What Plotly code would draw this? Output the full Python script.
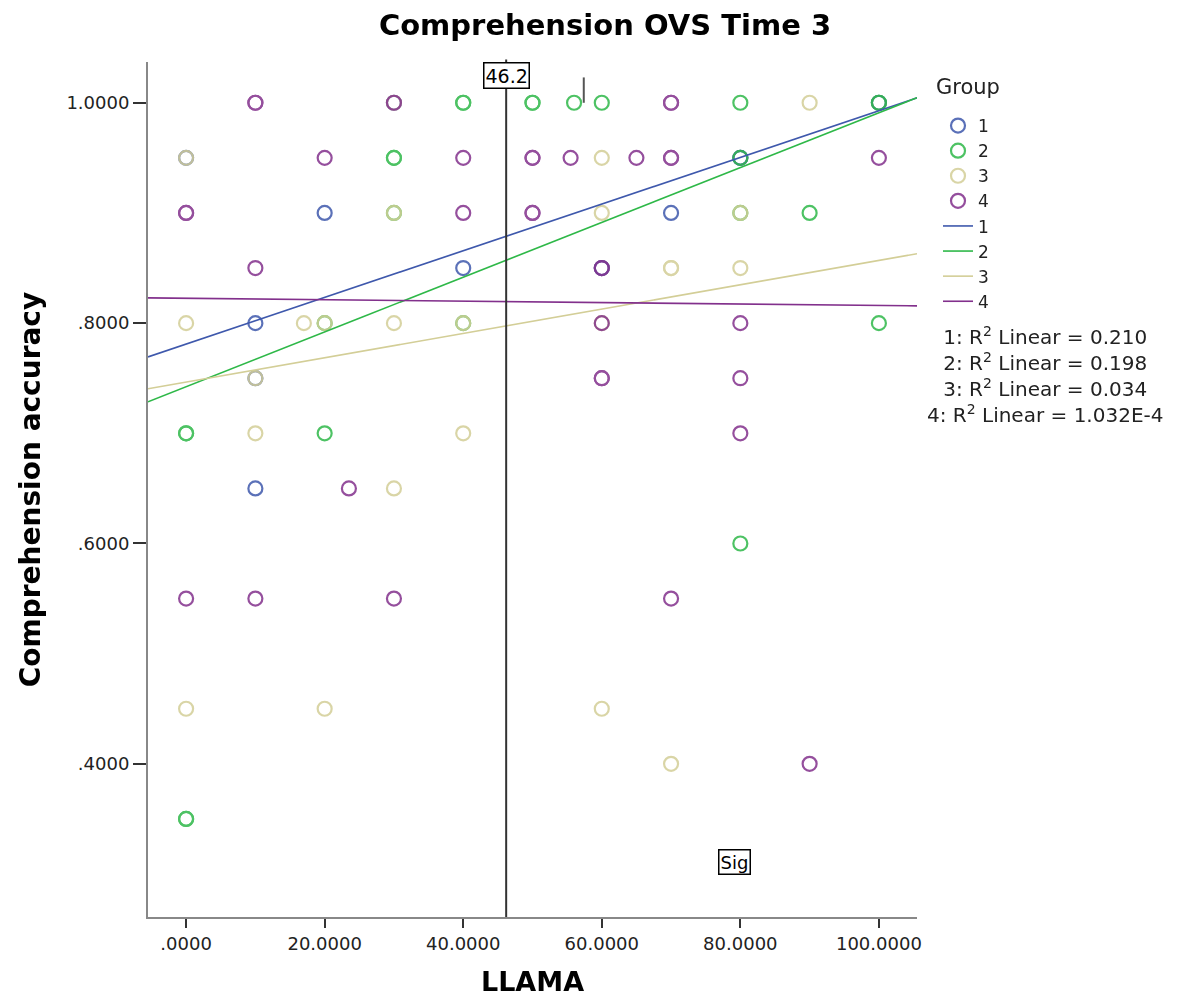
import plotly.graph_objects as go

# ---------------- data ----------------
groups = ["1", "2", "3", "4"]
colors = ["#3E58AC", "#2EB848", "#D3CE97", "#82308C"]

g1_x = [100, 80, 20, 70, 40, 60, 10, 10, 10, 0, 30, 80]
g1_y = [1.00, 0.95, 0.90, 0.90, 0.85, 0.85, 0.80, 0.75, 0.65, 0.95, 1.00, 0.95]

g2_x = [40, 40, 50, 50, 56, 60, 80, 100, 100, 30, 30, 80, 30, 80, 90, 20, 40, 100, 0, 0, 20, 80, 0, 0]
g2_y = [1.00, 1.00, 1.00, 1.00, 1.00, 1.00, 1.00, 1.00, 1.00, 0.95, 0.95, 0.95, 0.90, 0.90, 0.90,
        0.80, 0.80, 0.80, 0.70, 0.70, 0.70, 0.60, 0.35, 0.35]

g3_x = [30, 90, 0, 60, 30, 60, 80, 70, 70, 80, 0, 17, 20, 30, 40, 60, 10, 10, 40, 30, 0, 20, 60, 70]
g3_y = [1.00, 1.00, 0.95, 0.95, 0.90, 0.90, 0.90, 0.85, 0.85, 0.85, 0.80, 0.80, 0.80, 0.80, 0.80, 0.80,
        0.75, 0.70, 0.70, 0.65, 0.45, 0.45, 0.45, 0.40]

g4_x = [10, 10, 70, 70, 20, 40, 50, 50, 55.5, 65, 70, 70, 100, 0, 0, 40, 50, 50, 10, 60, 60, 80, 60, 60,
        80, 80, 23.5, 0, 10, 30, 70, 90, 30, 60]
g4_y = [1.00, 1.00, 1.00, 1.00, 0.95, 0.95, 0.95, 0.95, 0.95, 0.95, 0.95, 0.95, 0.95, 0.90, 0.90, 0.90,
        0.90, 0.90, 0.85, 0.85, 0.85, 0.80, 0.75, 0.75, 0.75, 0.70, 0.65, 0.55, 0.55, 0.55, 0.55, 0.40,
        1.00, 0.80]

fit_intercepts = [0.7810, 0.7423, 0.7465, 0.8226]
fit_slopes = [0.002118, 0.002486, 0.001104, -0.0000657]
r2_labels = ["0.210", "0.198", "0.034", "1.032E-4"]

x_ticks = [0, 20, 40, 60, 80, 100]
x_ticktext = [".0000", "20.0000", "40.0000", "60.0000", "80.0000", "100.0000"]
y_ticks = [0.4, 0.6, 0.8, 1.0]
y_ticktext = [".4000", ".6000", ".8000", "1.0000"]

ref_x = 46.2
ref_label = "46.2"
sig_x, sig_y = 79.2, 0.311
cursor_x, cursor_y0, cursor_y1 = 57.4, 1.0, 1.023

X_RANGE = [-5.5, 105.5]
Y_RANGE = [0.261, 1.037]

# ---------------- figure ----------------
FONT = "DejaVu Sans"
PW, PH = 769, 855  # plot area size in px
fig = go.Figure()

xs = [g1_x, g2_x, g3_x, g4_x]
ys = [g1_y, g2_y, g3_y, g4_y]
for g, c, x, y in zip(groups, colors, xs, ys):
    fig.add_trace(go.Scatter(
        x=x, y=y, mode="markers", name=g, legendgroup="pts",
        marker=dict(symbol="circle-open", size=14, color=c, line=dict(width=2.2, color=c)),
        opacity=0.85,
    ))

for g, c, b0, b1 in zip(groups, colors, fit_intercepts, fit_slopes):
    fx = X_RANGE
    fy = [b0 + b1 * v for v in fx]
    fig.add_trace(go.Scatter(
        x=fx, y=fy, mode="lines", name=g, legendgroup="lines",
        line=dict(color=c, width=1.6),
    ))

# reference line
fig.add_shape(type="line", x0=ref_x, x1=ref_x, xref="x", y0=0, y1=1.003, yref="paper",
              line=dict(color="#333333", width=2))
fig.add_shape(type="line", x0=cursor_x, x1=cursor_x, xref="x", y0=cursor_y0, y1=cursor_y1, yref="y",
              line=dict(color="#555555", width=2))

fig.add_annotation(x=ref_x, xref="x", y=(917 - 75.5) / PH, yref="paper", text=ref_label, showarrow=False,
                   xanchor="center", yanchor="middle",
                   font=dict(family=FONT, size=19, color="black"), bgcolor="white",
                   bordercolor="black", borderwidth=1.5, borderpad=1)
fig.add_annotation(x=sig_x, xref="x", y=sig_y, yref="y", text="Sig", showarrow=False,
                   xanchor="center", yanchor="middle",
                   font=dict(family=FONT, size=18, color="black"), bgcolor="white",
                   bordercolor="black", borderwidth=1.5, borderpad=1)

# legend title as separate text
fig.add_annotation(x=(968 - 148) / PW, xref="paper", y=(917 - 87) / PH, yref="paper", text="Group",
                   showarrow=False, xanchor="center", yanchor="middle",
                   font=dict(family=FONT, size=21, color="#222222"))

r2_text = "<br>".join(f"{g}: R<sup>2</sup> Linear = {r}" for g, r in zip(groups, r2_labels))
fig.add_annotation(x=(1045 - 148) / PW, xref="paper", y=(917 - 375) / PH, yref="paper", text=r2_text,
                   showarrow=False, align="center", xanchor="center", yanchor="middle",
                   font=dict(family=FONT, size=20, color="#222222"))

fig.update_layout(
    width=1180, height=1007,
    margin=dict(l=148, r=263, t=62, b=90),
    paper_bgcolor="white", plot_bgcolor="white",
    font=dict(family=FONT, color="black"),
    title=dict(text="<b>Comprehension OVS Time 3</b>", x=605 / 1180, xanchor="center",
               y=1 - 25 / 1007, yanchor="middle", font=dict(family=FONT, size=29, color="black")),
    legend=dict(x=(938 - 148) / PW, xanchor="left", y=(917 - 108) / PH, yanchor="top",
                font=dict(family=FONT, size=17, color="#222222"), tracegroupgap=0, itemwidth=30,
                bgcolor="rgba(0,0,0,0)"),
    showlegend=True,
)

fig.update_xaxes(range=X_RANGE, tickvals=x_ticks, ticktext=x_ticktext, showgrid=False, zeroline=False,
                 showline=True, linecolor="#888888", linewidth=2, ticks="outside", ticklen=9,
                 tickwidth=2, tickcolor="#333333",
                 tickfont=dict(family=FONT, size=18, color="#222222"),
                 title=dict(text="<b>LLAMA</b>", font=dict(family=FONT, size=27, color="black"), standoff=20))
fig.update_yaxes(range=Y_RANGE, tickvals=y_ticks, ticktext=y_ticktext, showgrid=False, zeroline=False,
                 showline=True, linecolor="#888888", linewidth=2, ticks="outside", ticklen=13,
                 tickwidth=2, tickcolor="#333333",
                 tickfont=dict(family=FONT, size=18, color="#222222"),
                 title=dict(text="<b>Comprehension accuracy</b>", font=dict(family=FONT, size=28, color="black"),
                            standoff=18))

fig.write_html("out.html")
